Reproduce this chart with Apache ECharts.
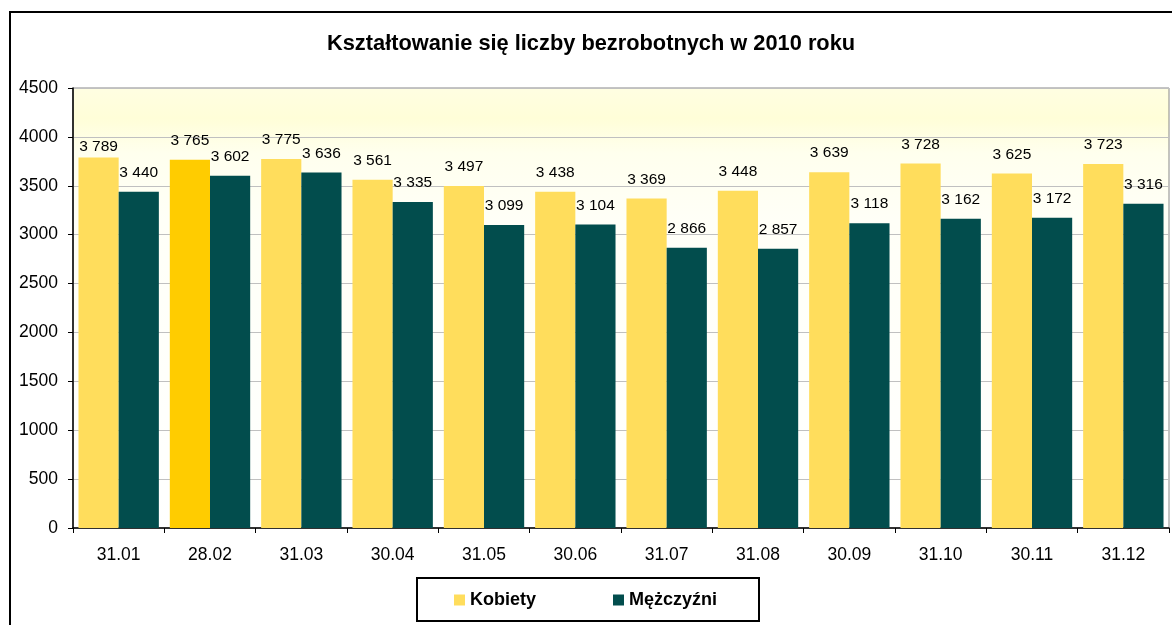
<!DOCTYPE html>
<html>
<head>
<meta charset="utf-8">
<script src="https://cdn.jsdelivr.net/npm/echarts@6/dist/echarts.min.js"></script>
<style>
  html, body { margin: 0; padding: 0; background: #fff; }
  #chart { width: 1172px; height: 625px; }
</style>
</head>
<body>
<div id="chart"></div>
<script>
var categories = ['31.01', '28.02', '31.03', '30.04', '31.05', '30.06', '31.07', '31.08', '30.09', '31.10', '30.11', '31.12'];
var kobiety = [3789, 3765, 3775, 3561, 3497, 3438, 3369, 3448, 3639, 3728, 3625, 3723];
var mezczyzni = [3440, 3602, 3636, 3335, 3099, 3104, 2866, 2857, 3118, 3162, 3172, 3316];
var highlightIndex = 1; // 28.02 bar drawn darker in the original

var FONT = '"Liberation Sans", Arial, sans-serif';

function fmt(v) {
    return String(v).replace(/\B(?=(\d{3})+(?!\d))/g, ' ');
}

var kobietyData = kobiety.map(function (v, i) {
    var item = { value: v };
    if (i === highlightIndex) item.itemStyle = { color: '#FFCC00' };
    // first label sits closer to its bar in the original
    if (i === 0) item.label = { distance: 3 };
    return item;
});

var barLabel = {
    show: true,
    position: 'top',
    distance: 11,
    fontFamily: FONT,
    fontSize: 15.5,
    color: '#000',
    formatter: function (p) { return fmt(p.value); }
};

var myChart = echarts.init(document.getElementById('chart'));
myChart.setOption({
    animation: false,
    textStyle: { fontFamily: FONT },
    title: {
        text: 'Kształtowanie się liczby bezrobotnych w 2010 roku',
        left: 322,
        top: 28,
        textStyle: { fontFamily: FONT, fontSize: 21.8, fontWeight: 'bold', color: '#000' }
    },
    graphic: [
        {
            type: 'rect',
            z: -10,
            shape: { x: 10, y: 12, width: 1190, height: 650 },
            style: { fill: 'none', stroke: '#000', lineWidth: 2 }
        },
        {
            type: 'rect',
            z: -5,
            shape: { x: 417, y: 578, width: 342, height: 43 },
            style: { fill: '#fff', stroke: '#000', lineWidth: 2 }
        }
    ],
    legend: {
        left: 454,
        top: 591,
        padding: 0,
        itemWidth: 11,
        itemHeight: 11,
        itemGap: 77,
        icon: 'rect',
        textStyle: { fontFamily: FONT, fontSize: 18, fontWeight: 'bold', color: '#000' },
        data: ['Kobiety', 'Mężczyźni']
    },
    grid: {
        left: 73,
        right: 3,
        top: 88,
        bottom: 97,
        show: true,
        borderColor: '#888',
        borderWidth: 1,
        backgroundColor: {
            type: 'linear', x: 0, y: 0, x2: 0, y2: 1,
            colorStops: [
                { offset: 0, color: '#FFFEE2' },
                { offset: 0.07, color: '#FFFED8' },
                { offset: 0.15, color: '#FFFFEE' },
                { offset: 0.3, color: '#FFFFF7' },
                { offset: 1, color: '#FFFFFF' }
            ]
        }
    },
    xAxis: {
        type: 'category',
        data: categories,
        axisLine: { lineStyle: { color: '#000', width: 1.5 } },
        axisTick: { show: true, length: 5, lineStyle: { color: '#000' } },
        axisLabel: { fontFamily: FONT, fontSize: 17.5, color: '#000', margin: 18 }
    },
    yAxis: {
        type: 'value',
        min: 0,
        max: 4500,
        interval: 500,
        axisLine: { show: true, lineStyle: { color: '#000', width: 1.5 } },
        axisTick: { show: true, length: 5, lineStyle: { color: '#000' } },
        axisLabel: {
            fontFamily: FONT, fontSize: 17.5, color: '#000', margin: 15,
            formatter: function (v) { return String(v); }
        },
        splitLine: { lineStyle: { color: '#C0C0C0', width: 1 } }
    },
    series: [
        {
            name: 'Kobiety',
            type: 'bar',
            data: kobietyData,
            barGap: '0%',
            barCategoryGap: '12%',
            itemStyle: { color: '#FFDD5C' },
            label: barLabel
        },
        {
            name: 'Mężczyźni',
            type: 'bar',
            data: mezczyzni,
            itemStyle: { color: '#024D4D' },
            label: barLabel
        }
    ]
});
</script>
</body>
</html>
